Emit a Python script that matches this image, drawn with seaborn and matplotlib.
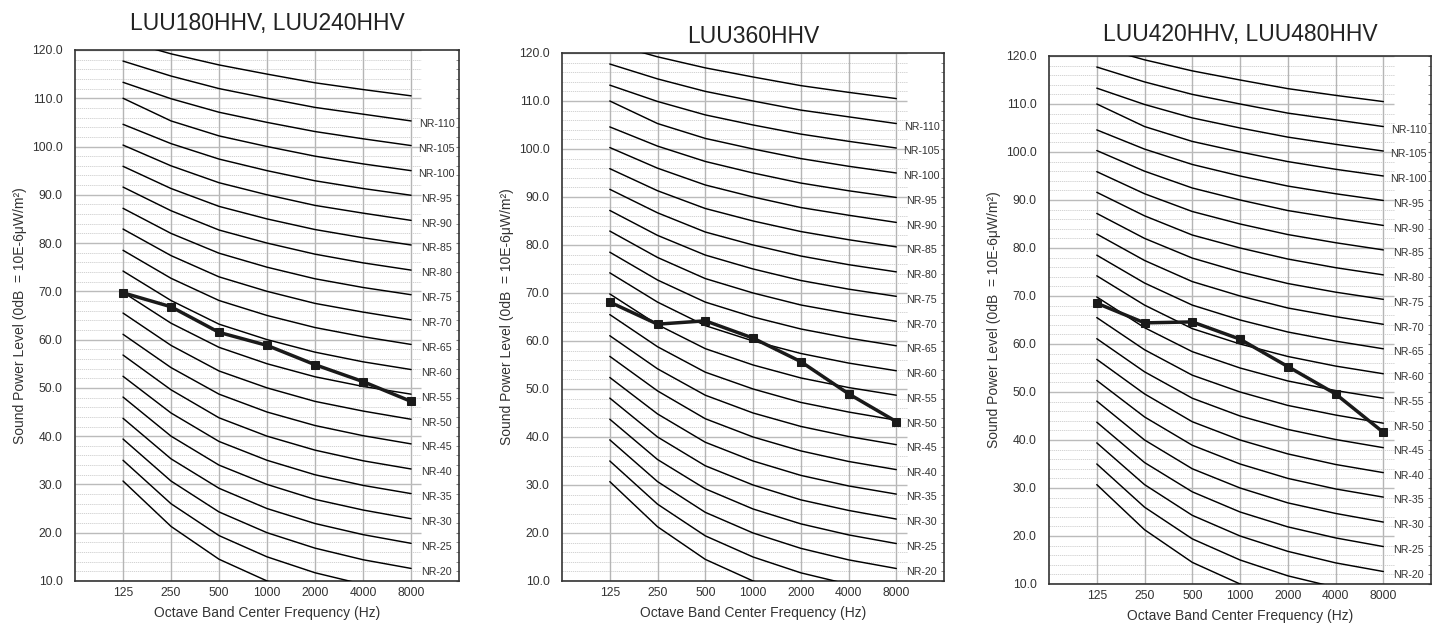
import numpy as np
import pandas as pd
import matplotlib
matplotlib.use('Agg')
import matplotlib.pyplot as plt
import seaborn as sns


# octave bands
freqs = [125, 250, 500, 1000, 2000, 4000, 8000]
freq_labels = ['125', '250', '500', '1000', '2000', '4000', '8000']

# NR curves, NR-10 .. NR-115, read per band
nr_values = list(range(10, 120, 5))
nr_125 = [30.7, 35.0, 39.4, 43.7, 48.1, 52.4, 56.8, 61.1, 65.5, 69.8, 74.2,
          78.5, 82.9, 87.2, 91.6, 95.9, 100.3, 104.6, 110.0, 113.3, 117.7, 122.0]
nr_250 = [21.3, 26.0, 30.7, 35.3, 40.0, 44.8, 49.6, 54.2, 58.8, 63.4, 68.1,
          72.7, 77.4, 82.0, 86.7, 91.3, 96.0, 100.6, 105.3, 109.9, 114.6, 119.2]
nr_500 = [14.5, 19.4, 24.3, 29.2, 34.0, 38.9, 43.8, 48.7, 53.5, 58.4, 63.2,
          68.1, 73.0, 77.9, 82.7, 87.6, 92.5, 97.4, 102.2, 107.1, 112.0, 116.9]
nr_1000 = [10.0, 15.0, 20.0, 25.0, 30.0, 35.0, 40.0, 45.0, 50.0, 55.0, 60.0,
           65.0, 70.0, 75.0, 80.0, 85.0, 90.0, 95.0, 100.0, 105.0, 110.0, 115.0]
nr_2000 = [6.6, 11.7, 16.8, 21.9, 26.9, 32.0, 37.1, 42.2, 47.2, 52.3, 57.4,
           62.5, 67.5, 72.6, 77.7, 82.8, 87.8, 92.9, 98.0, 103.1, 108.1, 113.2]
nr_4000 = [4.2, 9.3, 14.4, 19.6, 24.7, 29.8, 34.9, 40.1, 45.2, 50.3, 55.4,
           60.6, 65.7, 70.8, 75.9, 81.1, 86.2, 91.3, 96.4, 101.6, 106.7, 111.8]
nr_8000 = [2.3, 7.5, 12.6, 17.8, 22.9, 28.1, 33.2, 38.4, 43.5, 48.7, 53.8,
           59.0, 64.1, 69.3, 74.4, 79.6, 84.7, 89.9, 95.0, 100.2, 105.3, 110.5]
labeled_nr = list(range(20, 115, 5))

# measured units
titles = ['LUU180HHV, LUU240HHV', 'LUU360HHV', 'LUU420HHV, LUU480HHV']
unit_180 = [69.7, 66.8, 61.5, 58.8, 54.8, 51.3, 47.2]
unit_360 = [68.1, 63.5, 64.2, 60.6, 55.7, 49.0, 43.2]
unit_420 = [68.5, 64.4, 64.6, 61.0, 55.3, 49.6, 41.6]
units = [unit_180, unit_360, unit_420]

yticks = np.arange(10, 121, 10)
ytick_labels = ['%.1f' % v for v in yticks]

sns.set_style('white')
plt.rcParams['font.family'] = ['Liberation Sans', 'DejaVu Sans']
plt.rcParams['text.color'] = '#222222'

# long table of NR curves
bands = [nr_125, nr_250, nr_500, nr_1000, nr_2000, nr_4000, nr_8000]
rows = []
for f, col in zip(freqs, bands):
    for nr, v in zip(nr_values, col):
        rows.append({'freq': f, 'nr': nr, 'level': v})
nr_df = pd.DataFrame(rows)

fig = plt.figure(figsize=(14.4, 6.27), dpi=100)
positions = [
    [0.0521, 0.0734, 0.2667, 0.8469],
    [0.3903, 0.0734, 0.2653, 0.8421],
    [0.7285, 0.0686, 0.2653, 0.8421],
]
title_pads = [14.5, 7.5, 10.5]

for i in range(3):
    ax = fig.add_axes(positions[i])
    ax.set_xscale('log', base=2)
    ax.set_xlim(62.5, 16000)
    ax.set_ylim(10, 120)

    # grid
    for f in freqs:
        ax.axvline(f, color='#b5b5b5', lw=1.0, zorder=1)
    minor = [v for v in range(12, 120, 2) if v % 10 != 0]
    ax.hlines(minor, 62.5, 9300, colors='#cccccc', lw=0.6, linestyles=(0, (1.5, 1)), zorder=0)
    ax.hlines(yticks, 62.5, 9300, colors='#bbbbbb', lw=1.0, zorder=1)

    # NR curves
    sns.lineplot(data=nr_df, x='freq', y='level', units='nr', estimator=None,
                 color='black', lw=1.05, ax=ax, zorder=3)
    for nr in labeled_nr:
        end = nr_8000[nr_values.index(nr)]
        ax.text(11550, end - 0.7, 'NR-%d' % nr, ha='center', va='center',
                fontsize=7.7, color='#333333')

    # unit
    sns.lineplot(x=freqs, y=units[i], color='#1a1a1a', lw=2.5, marker='s',
                 markersize=6, markeredgecolor='#1a1a1a', ax=ax, zorder=4)

    ax.set_xticks(freqs)
    ax.set_xticklabels(freq_labels)
    ax.xaxis.set_minor_locator(matplotlib.ticker.NullLocator())
    ax.set_yticks(yticks)
    ax.set_yticklabels(ytick_labels)
    ax.set_yticks(minor, minor=True)
    ax.tick_params(axis='x', length=0, labelsize=8.7, pad=4, colors='#333333')
    ax.tick_params(axis='y', which='both', left=False, right=True, direction='in',
                   length=2.5, labelsize=8.7, pad=9, labelcolor='#333333', color='#777777')
    for s in ax.spines.values():
        s.set_color('#333333')
        s.set_linewidth(1.2)

    ax.set_xlabel('Octave Band Center Frequency (Hz)', fontsize=10, color='#333333')
    ax.set_ylabel('Sound Power Level (0dB  = 10E-6μW/m²)', fontsize=10, color='#333333')
    ax.xaxis.set_label_coords(0.5, -0.047)
    ax.yaxis.set_label_coords(-0.125, 0.5)
    ax.set_title(titles[i], fontsize=16.5, pad=title_pads[i], color='#222222')

fig.savefig('out.png', dpi=100)
